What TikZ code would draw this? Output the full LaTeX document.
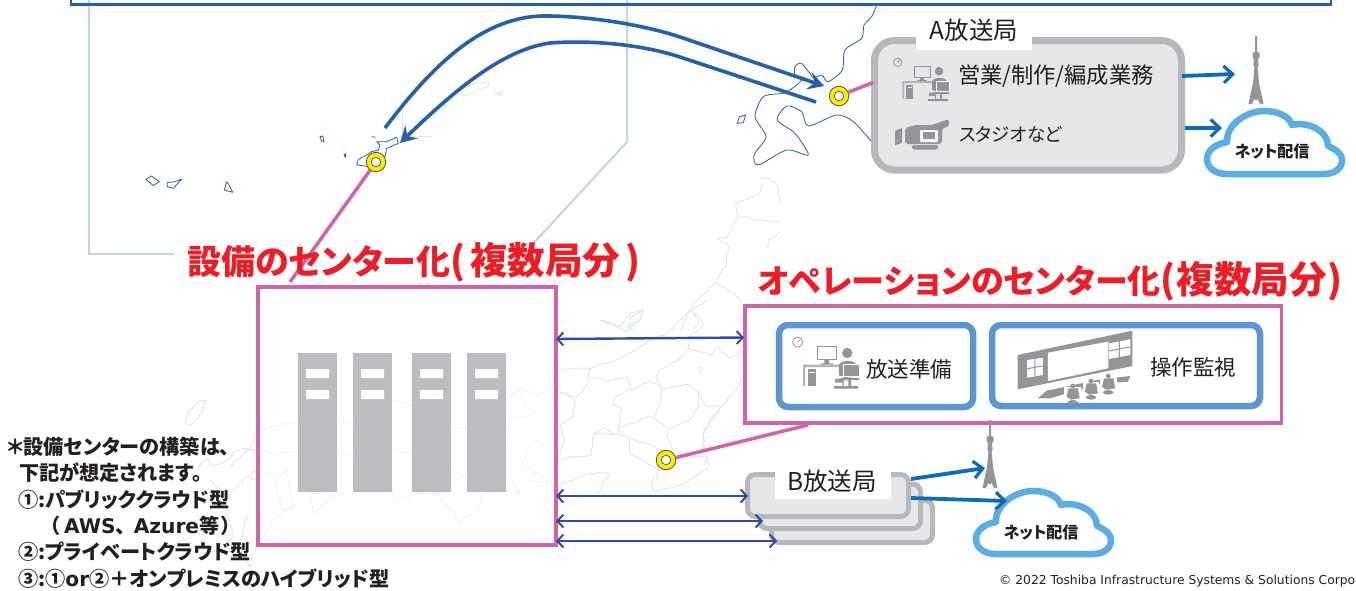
\documentclass[tikz,border=0pt]{standalone}
\usepackage{fontspec}
\setmainfont{Noto Sans CJK JP}[RawFeature={+palt}]
\newfontfamily\latin{DejaVu Sans}
\usetikzlibrary{arrows.meta,calc,decorations.pathmorphing}
\definecolor{pinkc}{HTML}{D064A8}
\definecolor{redc}{HTML}{EE1C25}
\definecolor{frameblue}{HTML}{5B96CE}
\definecolor{bargray}{HTML}{BCBDC0}
\definecolor{boxgray}{HTML}{B7B8BB}
\definecolor{boxfill}{HTML}{E6E7E9}
\definecolor{icongray}{HTML}{939598}
\definecolor{txt}{HTML}{231F20}
\definecolor{curveblue}{HTML}{2560AE}
\definecolor{outblue}{HTML}{0C6CB8}
\definecolor{dblblue}{HTML}{2A4FA5}
\definecolor{cloudblue}{HTML}{5BAEE2}
\definecolor{mapdark}{HTML}{2A5CA8}
\definecolor{mappale}{HTML}{DCE7F3}
\definecolor{insetline}{HTML}{C2D5EA}
\definecolor{ringy}{HTML}{FFED00}
\newcommand{\tsize}[1]{\fontsize{#1}{#1}\selectfont}
\tikzset{
  lbl/.style={inner sep=0pt,outer sep=0pt,text=txt,font=\tsize{#1}},
  blbl/.style={inner sep=0pt,outer sep=0pt,text=txt,font=\tsize{#1}\bfseries,anchor=west},
  ttl/.style={inner sep=0pt,outer sep=0pt,text=redc,font=\tsize{#1}\bfseries,anchor=west},
  pinkbox/.style={draw=pinkc,line width=3.5pt,anchor=north west,inner sep=0pt,outer sep=0pt},
  pinkline/.style={draw=pinkc,line width=3.5pt},
  graybox/.style={draw=boxgray,fill=boxfill,line width=#1,rounded corners=10pt,anchor=north west,inner sep=0pt,outer sep=0pt},
  bluebox/.style={draw=frameblue,fill=white,line width=6.5pt,rounded corners=9pt,anchor=north west,inner sep=0pt,outer sep=0pt},
  rack/.style={fill=bargray,anchor=north west,inner sep=0pt,outer sep=0pt,minimum width=39pt,minimum height=139pt},
  ringo/.style={circle,draw=txt!80,line width=.8pt,fill=ringy,inner sep=0pt,minimum size=19.5pt},
  ringh/.style={circle,draw=txt!80,line width=.7pt,fill=white,inner sep=0pt,minimum size=9.5pt},
  curve/.style={draw=curveblue,line width=3.6pt,-{Stealth[length=16pt,width=18pt,inset=6pt]}},
  outarrow/.style={draw=outblue,line width=3.8pt,-{Straight Barb[length=9pt,width=17pt,line width=3.2pt]}},
  dbl/.style={draw=dblblue,line width=2.4pt,{Straight Barb[length=6pt,width=13pt,line width=2pt]}-{Straight Barb[length=6pt,width=13pt,line width=2pt]}},
  wob/.style={decorate,decoration={random steps,segment length=3.5pt,amplitude=1pt},line join=round},
  dk/.style={draw=mapdark,line width=.8pt,line join=round},
  pl/.style={draw=mappale,line width=.9pt,wob},
}
\newcommand{\towericon}[3]{\begin{scope}[shift={(#1,#2)}]
 \fill[icongray] (-1,0) -- (1,0) -- (1,16) -- (3.5,17) -- (3.5,21) -- (2,23) -- (2.6,29) -- (1.6,32) -- (3,47) -- (7.5,68) -- (-7.5,68) -- (-3,47) -- (-1.6,32) -- (-2.6,29) -- (-2,23) -- (-3.5,21) -- (-3.5,17) -- (-1,16) -- cycle;
 \fill[white] (-4,68.2) -- (-1.5,63) -- (0,65) -- (1.5,63) -- (4,68.2) -- cycle;
 \coordinate (#3) at (0,34);
\end{scope}}
\newcommand{\netcloud}[3]{\begin{scope}[shift={(#1,#2)}]
 \draw[cloudblue,fill=white,line width=6.5pt,line join=round] (23,67) .. controls (10,67) and (3,60) .. (3,52) .. controls (3,43) and (12,37) .. (23,35) .. controls (22,18) and (42,4) .. (60,4) .. controls (74,4) and (85,9) .. (88,18) .. controls (104,14) and (124,24) .. (124,39) .. controls (133,43) and (138,47) .. (138,53) .. controls (138,62) and (130,67) .. (120,67) -- cycle;
 \node[inner sep=0pt,text=txt,font=\tsize{16}\bfseries] (#3) at (68,45) {ネット配信};
\end{scope}}
\newcommand{\deskicon}[3]{\begin{scope}[shift={(#1,#2)},scale=#3]
 \draw[icongray,line width=.8pt] (4.7,4.3) circle (4.2) (4.7,4.3) -- (6.5,2.5);
 \draw[icongray,line width=.9pt] (21,8) rectangle (37.3,19);
 \fill[icongray] (27,19) rectangle (31,22) (24,22) rectangle (34,23);
 \fill[icongray!70] (9.3,23) rectangle (42,25) (9.3,25) rectangle (11,41);
 \fill[icongray] (13.3,27) rectangle (20,41);
 \fill[white] (14.5,29) rectangle (19,30);
 \fill[icongray] (46,13.3) circle (4.3);
 \fill[icongray] (39,24) .. controls (39,19) and (53,18) .. (54,24) -- (54,33) -- (36,35) -- (36,38) -- (42,38) -- (42,41) -- (35,41) -- (35,43) -- (43,43) -- (43,33) -- (39,32) -- cycle;
 \fill[icongray,draw=white,line width=.7pt] (43,23) rectangle (56,33);
 \fill[icongray] (41,34) rectangle (56,36) (47,36) rectangle (49,41) (41,41) rectangle (55,43);
\end{scope}}
\begin{document}
\begin{tikzpicture}[x=1pt,y=-1pt]
\useasboundingbox (0,0) rectangle (1356,590);
\pgfmathsetseed{7}
% inset frame
\draw[insetline,line width=2pt] (89,0) -- (89,254) -- (174,254);
\draw[insetline,line width=2pt] (627,0) -- (627,142) -- (530,247);
% top banner
\draw[curveblue,line width=2.4pt] (71,-4) -- (71,4.5) -- (1331,4.5) -- (1331,-4);
% Hokkaido
\begin{scope}[shift={(680,0)},x=.3333pt,y=-.3333pt]
\draw[dk] plot[smooth,tension=.45] coordinates {(590,15) (575,50) (552,75) (545,115) (495,150) (487,210) (445,245) (425,225) (400,232) (365,190) (345,200) (345,225) (365,240) (330,270) (310,280) (250,290) (225,350) (258,410) (222,465) (235,495) (320,450) (385,465) (345,400) (292,360) (320,318) (365,335) (385,378) (470,345) (520,365) (575,425)};
\draw[draw=mapdark,line width=.8pt] (172,370) -- (178,350) -- (197,345) -- (190,368) -- cycle;
\end{scope}
% Okinawa and islands
\begin{scope}[shift={(130,0)},x=.3333pt,y=-.3333pt]
\begin{scope}[draw=mapdark,line width=.8pt,line join=round]
\draw (680,495) -- (685,478) -- (710,465) -- (725,455) -- (745,450) -- (750,435) -- (740,425) -- (770,425) -- (800,412) -- (805,430) -- (770,445) -- (765,470) -- (720,500) -- cycle;
\draw (570,410) -- (578,408) -- (582,425) -- (575,423) -- cycle;
\draw (642,464) -- (648,461) -- (646,472) -- cycle;
\draw (725,410) -- (737,412);
\draw (48,538) -- (65,528) -- (88,545) -- (70,557) -- cycle;
\draw (112,548) -- (135,545) -- (155,538) -- (130,565) -- (112,560) -- cycle;
\draw (290,545) -- (283,570) -- (308,577) -- (297,555) -- cycle;
\end{scope}
\draw[pl] (990,260) -- (1075,245) -- (1075,258) -- (1000,288) -- cycle;
\draw[pl] (1095,280) -- (1115,275) -- (1110,288) -- cycle;
\draw[pl] (935,300) -- (950,320) -- (935,330);
\draw[pl] (865,355) -- (880,360) -- (865,365) -- cycle;
\draw[draw=mappale,line width=.9pt] (818,335) -- (818,410) -- (905,410);
\end{scope}
% Tohoku
\begin{scope}[shift={(440,150)},x=.3333pt,y=-.3333pt]
\draw[pl] (960,85) -- (990,85) -- (1010,100) -- (1020,155);
\draw[pl] (965,100) -- (960,130) -- (915,150) -- (885,165) -- (893,200) -- (960,210) -- (1020,215);
\draw[pl] (893,200) -- (860,265) -- (835,265) -- (865,290) -- (860,340) -- (825,400) -- (760,460) -- (720,540);
\draw[pl] (825,400) -- (885,430) -- (905,460);
\draw[pl] (1020,245) -- (985,270) -- (985,300);
\draw[pl] (480,510) -- (540,530) -- (570,490) -- (610,480) -- (600,510) -- (560,530) -- (580,540);
\draw[pl] (760,480) -- (775,520) -- (760,540);
\end{scope}
% Chubu, Kanto
\begin{scope}[shift={(550,300)},x=.3333pt,y=-.3333pt]
\draw[pl] (25,210) -- (80,205) -- (120,205) -- (200,180) -- (260,150) -- (300,120) -- (350,100) -- (400,50) -- (420,30) -- (450,15) -- (470,0);
\draw[pl] (150,60) -- (180,70) -- (230,95) -- (265,65) -- (280,30) -- (240,55) -- (235,85);
\draw[pl] (420,30) -- (445,45) -- (460,75) -- (420,105) -- (415,145) -- (450,155) -- (490,165) -- (500,140) -- (540,175) -- (570,160) -- (580,130);
\draw[pl] (415,145) -- (385,180) -- (325,210) -- (320,240) -- (335,265) -- (415,255) -- (445,275) -- (445,320) -- (420,360) -- (355,385) -- (310,350) -- (330,310) -- (335,265);
\draw[pl] (120,205) -- (115,250) -- (80,290) -- (25,275);
\draw[pl] (115,235) -- (150,235) -- (165,245) -- (235,230) -- (240,270) -- (195,290) -- (190,315) -- (215,325) -- (205,385) -- (270,360) -- (310,350);
\draw[pl] (240,270) -- (300,245) -- (335,265);
\draw[pl] (205,385) -- (215,405) -- (130,400) -- (125,465) -- (60,470) -- (20,490);
\draw[pl] (355,385) -- (350,410) -- (365,445) -- (410,470) -- (470,470) -- (478,495);
\draw[pl] (445,275) -- (470,320) -- (515,320) -- (480,360) -- (460,400) -- (465,470);
\draw[pl] (515,320) -- (570,250) -- (580,230);
\draw[pl] (215,405) -- (280,430) -- (345,450);
\draw[pl] (235,415) -- (240,460) -- (310,500) -- (325,510) -- (320,540);
\draw[pl] (130,400) -- (160,385) -- (200,405);
\draw[pl] (445,205) -- (452,200) -- (457,212) -- (450,218) -- cycle;
\draw[pl] (25,275) -- (75,300) -- (70,350) -- (30,375) -- (45,420) -- (25,470);
\draw[pl] (0,445) -- (25,470);
\end{scope}
\begin{scope}[shift={(540,410)},x=.3827pt,y=-.3333pt]
\draw[pl] (430,165) -- (440,130) -- (425,115) -- (430,60) -- (470,0);
\draw[pl] (440,170) -- (380,220) -- (300,245) -- (290,220) -- (300,200);
\draw[pl] (150,250) -- (180,190) -- (130,190) -- (60,220) -- (40,260);
\end{scope}
% West Japan and Kyushu
\begin{scope}[shift={(250,280)},x=.3333pt,y=-.3333pt]
\draw[pl] (-60,560) -- (-20,520) -- (0,505) -- (30,450) -- (60,440) -- (130,430) -- (145,420) -- (260,430) -- (310,420) -- (430,360) -- (470,370) -- (500,380) -- (610,450) -- (700,430) -- (780,350) -- (810,325) -- (860,345) -- (880,340) -- (920,290);
\draw[pl] (0,510) -- (30,500) -- (60,520) -- (140,515) -- (260,520) -- (300,520) -- (430,510) -- (480,520) -- (560,500) -- (620,580) -- (660,590) -- (700,500) -- (780,500);
\draw[pl] (420,630) -- (440,665) -- (510,640) -- (560,640) -- (630,725) -- (680,690) -- (700,640) -- (780,630) -- (810,640) -- (780,600);
\draw[pl] (80,590) -- (110,570) -- (130,680) -- (100,690) -- (80,640) -- cycle;
\draw[pl] (180,640) -- (190,700) -- (250,650) -- (210,640) -- cycle;
\draw[pl] (840,600) -- (920,610);
\draw[pl] (840,570) -- (880,590) -- (820,560) -- (830,510) -- (860,480) -- (920,520);
\draw[pl] (0,580) -- (30,575) -- (60,580);
\draw[pl] (30,780) -- (70,720) -- (140,670);
\draw[pl] (810,325) -- (820,370) -- (860,400) -- (780,420) -- (770,470);
\end{scope}
\begin{scope}[shift={(150,380)},x=.3333pt,y=-.3333pt]
\draw[pl] (105,130) -- (115,100) -- (150,60) -- (170,60) -- (145,110) -- (125,135) -- cycle;
\draw[pl] (320,225) -- (290,205) -- (250,215) -- (240,235) -- (190,260) -- (170,235) -- (120,290);
\draw[pl] (180,300) -- (230,350) -- (290,290) -- (320,300);
\draw[pl] (290,400) -- (270,500) -- (300,560) -- (320,490);
\draw[pl] (100,510) -- (140,540) -- (200,510) -- (250,470) -- (230,400);
\end{scope}
% server box
\fill[white,opacity=.55] (258,287) rectangle (556,545);
\node[pinkbox,minimum width=298pt,minimum height=258pt] (srv) at (258,287) {};
\foreach \n/\x in {a/298,b/353,c/412,d/467}{
  \node[rack] (rack\n) at (\x,353) {};
  \fill[white] ($(rack\n.north west)+(8,16)$) rectangle +(23,9) ($(rack\n.north west)+(8,37)$) rectangle +(23,9);
}
% ops box
\node[pinkbox,minimum width=536.5pt,minimum height=117pt] (ops) at (745,306) {};
\node[bluebox,minimum width=194pt,minimum height=82pt] (prep) at (779,325) {};
\node[bluebox,minimum width=268pt,minimum height=81pt] (mon) at (992,325) {};
\deskicon{792}{337}{1.2}
\node[lbl=21.5] (preptxt) at (909,369) {放送準備};
\node[lbl=21.5] (montxt) at (1193,367) {操作監視};
% control room icon
\begin{scope}[shift={(740,300)},x=.3448pt,y=-.3333pt]
\fill[icongray] (805,165) -- (1138,92) -- (1138,198) -- (805,268) -- cycle;
\fill[white] (893,158) -- (1068,125) -- (1068,205) -- (893,243) -- cycle;
\fill[white] (833,180) -- (878,173) -- (878,225) -- (833,233) -- cycle;
\fill[white] (1070,130) -- (1132,118) -- (1132,165) -- (1070,177) -- cycle;
\draw[icongray,line width=1pt] (855,176) -- (855,229) (833,206) -- (878,198) (1100,124) -- (1100,171) (1070,153) -- (1132,141);
\fill[icongray] (863,295) -- (890,272) -- (1045,238) -- (1132,228) -- (1125,245) -- (1050,250) -- (915,290) -- (900,295) -- cycle;
\foreach \px/\py in {965/285,1018/270,1068/255}{
  \fill[white] (\px-24,\py-25) rectangle (\px+24,\py+10);
  \fill[icongray] (\px,\py-27) ellipse (7 and 7);
  \fill[icongray] (\px-18,\py+5) -- (\px-12,\py-20) -- (\px+15,\py-20) -- (\px+20,\py+10) -- (\px-5,\py+14) -- cycle;
  \fill[icongray] (\px,\py+22) ellipse (15 and 7);
}
\end{scope}
% A station
\node[graybox=7pt,rounded corners=20pt,minimum width=307pt,minimum height=129.5pt] (abox) at (874.5,40.5) {};
\node[fill=white,inner sep=0pt,minimum width=116pt,minimum height=34pt,anchor=north west] (alab) at (916,16) {};
\node[lbl=24.5] (atxt) at (974,30) {A放送局};
\deskicon{893}{58}{1}
\node[lbl=22.3,anchor=west] (atxt1) at (958,76) {営業/制作/編成業務};
\node[lbl=18.5,anchor=west] (atxt2) at (959,134) {スタジオなど};
\begin{scope}[shift={(895,119)}]
\fill[icongray] (0,12) -- (7,9) -- (7,24) -- (0,26) -- cycle;
\fill[icongray,rounded corners=3pt] (10,9) -- (20,6) -- (37,6) -- (54,0) -- (54,8) -- (47,9) -- (47,25) -- (10,25) -- cycle;
\fill[white,rounded corners=1pt] (25,11) rectangle (43,23);
\fill[icongray] (28,13) rectangle (40,20);
\fill[icongray,rounded corners=2pt] (17,26) rectangle (43,30.5);
\end{scope}
\towericon{1256}{36}{twa}
\netcloud{1204}{107}{cloudatxt}
\coordinate (a1s) at (1182,76);
\coordinate (a1e) at (1235,74);
\coordinate (a2s) at (1185,128);
\coordinate (a2e) at (1222,128);
\draw[outarrow] (a1s) -- (a1e);
\draw[outarrow] (a2s) -- (a2e);
% B station
\node[graybox=5pt,rounded corners=8pt,minimum width=161pt,minimum height=42.5pt] (bc) at (771.5,500) {};
\node[graybox=5pt,rounded corners=8pt,minimum width=161pt,minimum height=44.5pt] (bb) at (759.5,484) {};
\node[graybox=5pt,rounded corners=8pt,minimum width=161pt,minimum height=42pt] (ba) at (747.5,474.5) {};
\node[fill=white,inner sep=0pt,minimum width=116pt,minimum height=29pt,anchor=north west] (blab) at (775,470) {};
\node[lbl=24.5] (btxt) at (832,481) {B放送局};
\towericon{990}{420}{twb}
\netcloud{973}{487}{cloudbtxt}
\coordinate (b1s) at (911,479);
\coordinate (b1e) at (985,468);
\coordinate (b2s) at (911,498);
\coordinate (b2e) at (1007,501);
\draw[outarrow] (b1s) -- (b1e);
\draw[outarrow] (b2s) -- (b2e);
% double arrows
\coordinate (d0l) at (556,339);
\coordinate (d0r) at (744,337.5);
\coordinate (d1l) at (556,496);
\coordinate (d1r) at (748,496);
\coordinate (d2l) at (556,521);
\coordinate (d2r) at (763,521);
\coordinate (d3l) at (556,541);
\coordinate (d3r) at (777,541);
\draw[dbl] (d0l) -- (d0r);
\draw[dbl] (d1l) -- (d1r);
\draw[dbl] (d2l) -- (d2r);
\draw[dbl] (d3l) -- (d3r);
% rings
\node[ringo] (ringa) at (839,96) {};
\node[ringo] (ringb) at (376,162) {};
\node[ringo] (ringc) at (666,460) {};
\node[ringh] (holea) at (ringa) {};
\node[ringh] (holeb) at (ringb) {};
\node[ringh] (holec) at (ringc) {};
\coordinate (la) at (873,82.5);
\coordinate (lb) at (290,282);
\coordinate (lc) at (808,425);
\draw[pinkline] (ringa) -- (la);
\draw[pinkline] (ringb) -- (lb);
\draw[pinkline] (ringc) -- (lc);
% curved arrows
\coordinate (c1s) at (385,128);
\coordinate (c1e) at (824,86);
\coordinate (c2s) at (816,102);
\coordinate (c2e) at (400,143);
\draw[curve] (c1s) .. controls (440,55) and (490,14) .. (550,16) .. controls (600,17) and (650,27) .. (680,37) -- (c1e);
\draw[curve] (c2s) -- (680,57) .. controls (640,44) and (590,40) .. (550,43) .. controls (500,50) and (450,95) .. (c2e);
% titles
\node[ttl=34] (t1) at (187,262) {設備のセンター化{\tsize{37.5}(\hspace{5pt}複数局分\hspace{5pt})}};
\node[ttl=33] (t2) at (758,281) {オペレーションのセンター化{\tsize{37.5}(\hspace{1pt}複数局分\hspace{1pt})}};
% notes
\node[blbl=20.2] (n1) at (7,447) {＊設備センターの構築は、};
\node[blbl=20.2] (n2) at (19,473) {下記が想定されます。};
\node[blbl=20.2] (n3) at (18,500) {①:パブリッククラウド型};
\node[blbl=20.2] (n4) at (50,526) {（\hspace{4pt}{\latin AWS}、\hspace{8pt}{\latin Azure}等\hspace{2pt}）};
\node[blbl=20.2] (n5) at (18,552) {②:プライベートクラウド型};
\node[blbl=20.2] (n6) at (18,579) {③:①{\latin or}②＋オンプレミスのハイブリッド型};
\node[inner sep=0pt,anchor=west,text=txt,font=\latin\tsize{12.3}] (copy) at (999,581) {© 2022 Toshiba Infrastructure Systems \& Solutions Corpo};
\end{tikzpicture}
\end{document}
